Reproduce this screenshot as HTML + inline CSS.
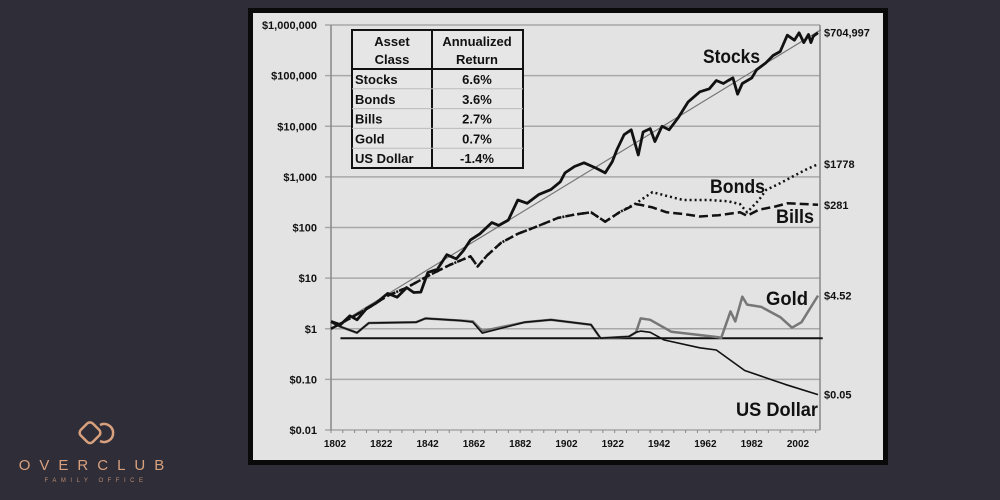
<!DOCTYPE html>
<html><head><meta charset="utf-8"><style>
body{margin:0;width:1000px;height:500px;background:#2f2e38;overflow:hidden;font-family:"Liberation Sans",sans-serif}
#frame{position:absolute;left:248px;top:8px;width:630px;height:447px;border:5px solid #0a0a0a;background:#e3e3e3}
svg{position:absolute;left:0;top:0}
</style></head><body>
<div id="frame"></div>
<svg id="logo" width="250" height="500">
 <g fill="none" stroke="#d9a07e" stroke-width="2.5">
  <rect x="82" y="424" width="17" height="17" rx="4" transform="rotate(45 90 432)"/>
  <path d="M100 425 a9 9 0 1 1 0 16"/>
 </g>
 <text x="96" y="470" fill="#d9a07e" font-size="15" text-anchor="middle" letter-spacing="9">OVERCLUB</text>
 <text x="96" y="482" fill="#b88a70" font-size="6" text-anchor="middle" letter-spacing="4.5">FAMILY OFFICE</text>
</svg>
<svg id="chart" width="1000" height="500"></svg>
<script>
const yTicks=[0.01,0.1,1,10,100,1000,10000,100000,1000000];
const yTickLabels=["$0.01","$0.10","$1","$10","$100","$1,000","$10,000","$100,000","$1,000,000"];
const xTicks=[1802,1822,1842,1862,1882,1902,1922,1942,1962,1982,2002];
const stockYears=[1802,1806,1810,1813,1817,1821,1826,1830,1834,1837,1840,1843,1847,1851,1855,1858,1861,1865,1870,1873,1877,1881,1885,1890,1895,1899,1901,1905,1909,1914,1918,1921,1923,1926,1929,1932,1934,1937,1939,1942,1945,1949,1953,1958,1962,1965,1968,1970,1972,1974,1976,1980,1982,1986,1989,1992,1995,1998,2000,2002,2004,2005,2006,2008];
const stockVals=[1.4,1.2,1.8,1.5,2.5,3.2,5,4.2,6.5,5.2,5.3,13,15,29,24,35,57,75,125,110,140,350,300,450,560,800,1200,1600,1900,1500,1200,2000,3500,6800,8500,2700,7700,9000,5000,10000,8500,15000,30000,48000,55000,80000,70000,80000,90000,43000,70000,90000,130000,180000,250000,300000,630000,500000,700000,450000,650000,450000,600000,704997];
const bondYears=[1802,1810,1818,1826,1834,1843,1852,1861,1864,1868,1874,1881,1888,1898,1905,1912,1918,1924,1931,1938,1944,1951,1962,1970,1975,1978,1983,1986,1992,1997,2003,2008];
const bondVals=[1,1.6,2.6,4.5,6.5,11,18,27,17,28,50,75,100,155,180,200,130,200,300,500,420,350,350,330,290,200,350,550,750,1000,1400,1778];
const billYears=[1802,1810,1818,1826,1834,1843,1852,1861,1864,1868,1874,1881,1888,1898,1905,1912,1918,1924,1931,1933,1938,1944,1951,1958,1966,1975,1978,1983,1990,1995,2003,2008];
const billVals=[1,1.6,2.6,4.5,6.5,11,18,27,17,28,50,75,100,155,180,200,130,200,290,280,250,200,185,165,175,200,170,225,260,300,290,281];
const goldYears=[1802,1806,1813,1818,1838,1842,1857,1862,1866,1884,1895,1912,1916,1928,1931,1933,1937,1946,1966,1967,1971,1973,1976,1978,1984,1992,1997,2001,2008];
const goldVals=[1.35,1.1,0.83,1.3,1.35,1.6,1.45,1.4,0.9,1.35,1.5,1.2,0.65,0.7,0.85,1.6,1.5,0.87,0.68,0.65,2.2,1.4,4.3,3,2.7,1.7,1.05,1.35,4.52];
const dollarYears=[1802,1806,1813,1818,1838,1842,1857,1862,1866,1884,1895,1912,1916,1928,1931,1933,1937,1943,1958,1965,1977,1994,2008];
const dollarVals=[1.35,1.1,0.83,1.3,1.35,1.6,1.45,1.35,0.82,1.35,1.5,1.2,0.65,0.7,0.85,0.9,0.85,0.6,0.42,0.38,0.15,0.08,0.05];
const flatLine=[1806,2010,0.65];
const trend=[1802,1,2008,704997];

const NS="http://www.w3.org/2000/svg",svg=document.getElementById('chart');
const L=331,R=820,T=25,B=430;
const x=y=>L+(y-1802)*(818-331)/206;
const xl=y=>335+(y-1802)*2.315;
const yv=v=>B-(Math.log10(v)+2)*(B-T)/8;
function el(t,a,p){const e=document.createElementNS(NS,t);for(const k in a)e.setAttribute(k,a[k]);(p||svg).appendChild(e);return e;}
yTicks.forEach((v,i)=>{
 const g=el('line',{x1:L-6,x2:R,y1:yv(v),y2:yv(v),stroke:'#a8a8a8','stroke-width':1.5});
 
 
 const t=el('text',{x:L-14,y:yv(v)+4,'text-anchor':'end','font-size':11,'font-weight':'bold',fill:'#111'});
 t.textContent=yTickLabels[i];
 
 
});
el('line',{x1:L,x2:L,y1:T,y2:B,stroke:'#888','stroke-width':1.5});
el('line',{x1:R,x2:R,y1:T,y2:B,stroke:'#888','stroke-width':1.5});
for(let yr=1802;yr<=2010;yr+=5){el('line',{x1:x(yr),x2:x(yr),y1:B,y2:B+3,stroke:'#888'});}
xTicks.forEach(v=>{
 const t=el('text',{x:xl(v),y:B+17,'text-anchor':'middle','font-size':10,'font-weight':'bold',fill:'#111'});
 t.textContent=v;
 
 
});
function line(ys,vs,attrs,name){
 const d=ys.map((yr,i)=>(i?'L':'M')+x(yr).toFixed(1)+' '+yv(vs[i]).toFixed(1)).join(' ');
 const p=el('path',Object.assign({d:d,fill:'none','stroke-linejoin':'round'},attrs));
 
 
}
const tl=el('line',{x1:x(trend[0]),y1:yv(trend[1]),x2:x(trend[2])+3,y2:yv(trend[3])-3,stroke:'#777','stroke-width':1.2});


const fl=el('line',{x1:x(flatLine[0]),x2:x(flatLine[1]),y1:yv(flatLine[2]),y2:yv(flatLine[2]),stroke:'#111','stroke-width':2});


line(goldYears,goldVals,{stroke:'#777','stroke-width':2.5},'gold-line');
line(dollarYears,dollarVals,{stroke:'#111','stroke-width':1.6},'us-dollar-line');
line(billYears,billVals,{stroke:'#111','stroke-width':2.5,'stroke-dasharray':'9 4'},'bills-line');
line(bondYears,bondVals,{stroke:'#111','stroke-width':2.5,'stroke-dasharray':'2 3'},'bonds-line');
line(stockYears,stockVals,{stroke:'#111','stroke-width':2.8},'stocks-line');
[["Stocks",703,63,57],["Bonds",710,193,55],["Bills",776,223,38],["Gold",766,305,42],["US Dollar",736,416,82]].forEach(a=>{
 const t=el('text',{x:a[1],y:a[2],'font-size':19,'font-weight':'bold',fill:'#111',textLength:a[3],lengthAdjust:'spacingAndGlyphs'});t.textContent=a[0];
 
 
});
[["$704,997",704997],["$1778",1778],["$281",281],["$4.52",4.52],["$0.05",0.05]].forEach(a=>{
 const t=el('text',{x:824,y:yv(a[1])+4,'font-size':11,'font-weight':'bold',fill:'#111'});t.textContent=a[0];
 
 
});
const tb=el('g',{});
el('rect',{x:352,y:30,width:171,height:138,fill:'#e6e6e6',stroke:'#111','stroke-width':2},tb);
el('line',{x1:432,x2:432,y1:30,y2:168,stroke:'#111','stroke-width':2},tb);
el('line',{x1:352,x2:523,y1:69,y2:69,stroke:'#111','stroke-width':2},tb);
const rows=[["Stocks","6.6%"],["Bonds","3.6%"],["Bills","2.7%"],["Gold","0.7%"],["US Dollar","-1.4%"]];
[["Asset",392,46],["Class",392,64],["Annualized",477,46],["Return",477,64]].forEach(a=>{
 const t=el('text',{x:a[1],y:a[2],'text-anchor':'middle','font-size':13,'font-weight':'bold',fill:'#111'},tb);t.textContent=a[0];
});
rows.forEach((r,i)=>{
 const yy=69+i*19.8;
 if(i)el('line',{x1:352,x2:523,y1:yy,y2:yy,stroke:'#bbb'},tb);
 const a=el('text',{x:355,y:yy+15,'font-size':13,'font-weight':'bold',fill:'#111'},tb);a.textContent=r[0];
 const b=el('text',{x:477,y:yy+15,'text-anchor':'middle','font-size':13,'font-weight':'bold',fill:'#111'},tb);b.textContent=r[1];
});
</script>
</body></html>
